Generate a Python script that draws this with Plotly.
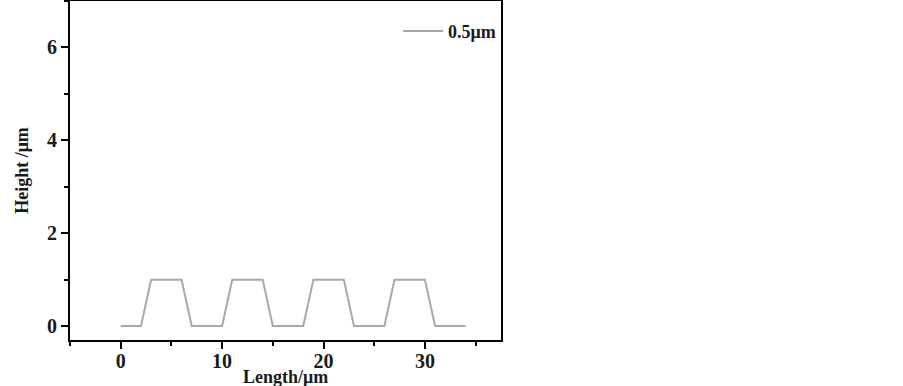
import plotly.graph_objects as go

# Profile of the grating (Length in µm, Height in µm)
length_um = [0, 2, 3, 6, 7, 10, 11, 14, 15, 18, 19, 22, 23, 26, 27, 30, 31, 34]
height_um = [0, 0, 1, 1, 0, 0, 1, 1, 0, 0, 1, 1, 0, 0, 1, 1, 0, 0]
series_name = "<b>0.5μm</b>"
x_ticks = [0, 10, 20, 30]
y_ticks = [0, 2, 4, 6]

FONT = "Liberation Serif, Times New Roman, serif"
TXT = "#1a1a1a"

fig = go.Figure()
fig.add_trace(go.Scatter(
    x=length_um, y=height_um, mode="lines", name=series_name,
    line=dict(color="#a8a8a8", width=2),
))

fig.update_layout(
    width=903, height=386,
    margin=dict(l=70, r=402, t=1, b=46),
    paper_bgcolor="white", plot_bgcolor="white",
    font=dict(family=FONT, size=18, color=TXT),
    showlegend=True,
    legend=dict(
        x=1.0, y=0.965, xanchor="right", yanchor="top",
        bgcolor="rgba(0,0,0,0)", borderwidth=0,
        font=dict(family=FONT, size=18, color=TXT),
        itemwidth=40,
    ),
    annotations=[dict(
        text="<b>Length/μm</b>", xref="paper", yref="paper",
        x=0.5, y=-0.075, xanchor="center", yanchor="top", showarrow=False,
        font=dict(family=FONT, size=18, color=TXT),
    )],
)

fig.update_xaxes(
    range=[-5, 37.5], tickvals=x_ticks, ticktext=[str(v) for v in x_ticks],
    showgrid=False, zeroline=False, automargin=False,
    showline=True, linecolor="black", linewidth=2, mirror=True,
    ticks="outside", ticklen=7, tickwidth=2, tickcolor="black",
    minor=dict(dtick=5, tick0=0, ticks="outside", ticklen=4, tickwidth=2, tickcolor="black"),
    tickfont=dict(family=FONT, size=20, color=TXT, weight="bold"),
    ticklabelstandoff=-5,
)
fig.update_yaxes(
    range=[-0.3, 7.0], tickvals=y_ticks, ticktext=[str(v) for v in y_ticks],
    showgrid=False, zeroline=False, automargin=False,
    showline=True, linecolor="black", linewidth=2, mirror=True,
    ticks="outside", ticklen=7, tickwidth=2, tickcolor="black",
    minor=dict(dtick=1, tick0=0, ticks="outside", ticklen=4, tickwidth=2, tickcolor="black"),
    tickfont=dict(family=FONT, size=20, color=TXT, weight="bold"),
    title=dict(text="<b>Height /μm</b>", font=dict(family=FONT, size=18, color=TXT), standoff=14),
)

fig.write_html("out.html", config={"displayModeBar": False},
               post_script="document.body.style.margin='0';")
